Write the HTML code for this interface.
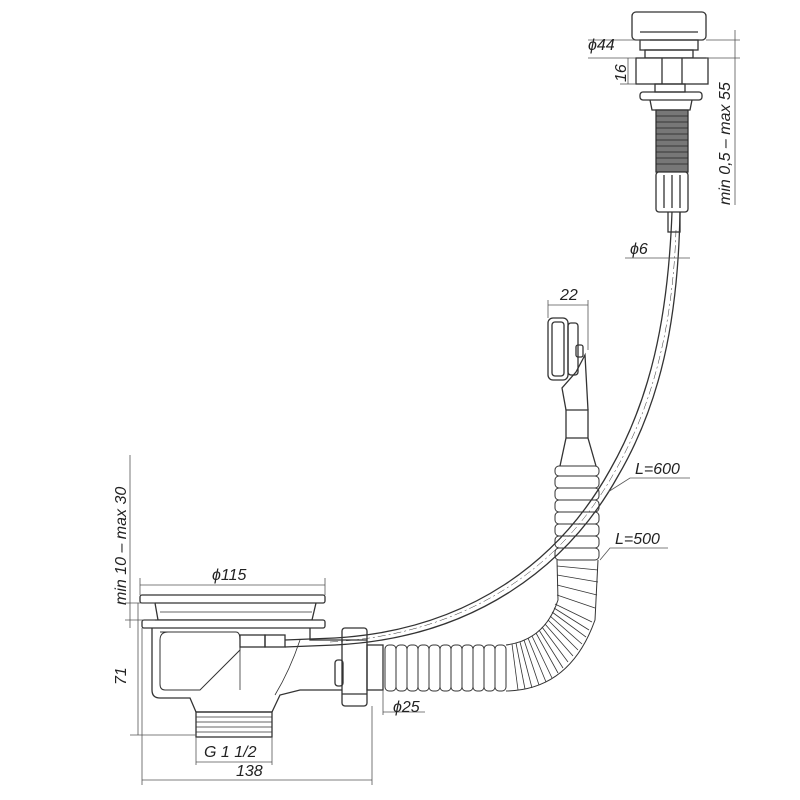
<!DOCTYPE html>
<html><head><meta charset="utf-8"><style>
html,body{margin:0;padding:0;background:#fff}
svg{display:block}
text{font-family:"Liberation Sans",sans-serif;font-style:italic;fill:#222}
</style></head><body>
<svg width="800" height="800" viewBox="0 0 800 800" xmlns="http://www.w3.org/2000/svg">
<g fill="none" stroke="#333" stroke-width="1.3">
<!-- drain flange -->
<rect x="140" y="595" width="185" height="8" rx="2" fill="#fff"/>
<path d="M155 603 L158 620 L312 620 L316 603"/>
<line x1="160" y1="612" x2="312" y2="612" stroke-width="0.7"/>
<rect x="142" y="620" width="183" height="8" rx="2" fill="#fff"/>
<!-- body -->
<path d="M152 628 L152 690 Q152 698 160 698 L190 698 L196 712 L272 712 L280 695 L300 690 L345 690 L345 640 L310 640 L310 628"/>
<path d="M160 632 L236 632 Q240 632 240 640 L240 650 L200 690 L165 690 Q160 690 160 684 L160 640 Q160 632 168 632" stroke-width="1"/>
<path d="M240 650 L240 690" stroke-width="0.8"/>
<rect x="240" y="635" width="25" height="12"/>
<rect x="265" y="635" width="20" height="12"/>
<path d="M300 640 Q290 670 275 695" stroke-width="0.8"/>
<!-- thread -->
<rect x="196" y="712" width="76" height="25"/>
<g stroke-width="0.8"><line x1="196" y1="717" x2="272" y2="717"/><line x1="196" y1="722" x2="272" y2="722"/><line x1="196" y1="727" x2="272" y2="727"/><line x1="196" y1="732" x2="272" y2="732"/></g>
<!-- nut -->
<rect x="342" y="628" width="25" height="78" rx="3" fill="#fff"/>
<line x1="342" y1="640" x2="367" y2="640"/><line x1="342" y1="694" x2="367" y2="694"/>
<rect x="335" y="660" width="8" height="26" rx="3"/>
<rect x="367" y="645" width="16" height="45"/>
<!-- corrugated hose -->
<g stroke-width="1">
<rect x="385" y="645" width="11" height="46" rx="4"/><rect x="396" y="645" width="11" height="46" rx="4"/><rect x="407" y="645" width="11" height="46" rx="4"/><rect x="418" y="645" width="11" height="46" rx="4"/><rect x="429" y="645" width="11" height="46" rx="4"/><rect x="440" y="645" width="11" height="46" rx="4"/><rect x="451" y="645" width="11" height="46" rx="4"/><rect x="462" y="645" width="11" height="46" rx="4"/><rect x="473" y="645" width="11" height="46" rx="4"/><rect x="484" y="645" width="11" height="46" rx="4"/><rect x="495" y="645" width="11" height="46" rx="4"/>
<path d="M506 645 Q545 640 558 600 L557 560 M506 691 Q570 690 595 620 L598 560"/>
<g stroke-width="0.8">
<line x1="512" y1="644" x2="518" y2="690"/><line x1="516" y1="643" x2="525" y2="689"/><line x1="520" y1="642" x2="532" y2="688"/><line x1="524" y1="640" x2="539" y2="685"/><line x1="528" y1="638" x2="546" y2="682"/><line x1="532" y1="636" x2="552" y2="678"/><line x1="536" y1="633" x2="558" y2="673"/><line x1="539" y1="630" x2="563" y2="668"/><line x1="542" y1="627" x2="568" y2="662"/><line x1="545" y1="624" x2="573" y2="656"/><line x1="548" y1="620" x2="578" y2="650"/><line x1="550" y1="616" x2="582" y2="644"/><line x1="552" y1="612" x2="586" y2="637"/><line x1="554" y1="608" x2="589" y2="630"/><line x1="555" y1="604" x2="592" y2="622"/><line x1="557" y1="595" x2="595" y2="608"/><line x1="557" y1="585" x2="597" y2="595"/><line x1="557" y1="575" x2="598" y2="582"/><line x1="557" y1="566" x2="598" y2="570"/>
</g>
<rect x="555" y="548" width="44" height="12" rx="4"/><rect x="555" y="536" width="44" height="12" rx="4"/><rect x="555" y="524" width="44" height="12" rx="4"/><rect x="555" y="512" width="44" height="12" rx="4"/><rect x="555" y="500" width="44" height="12" rx="4"/><rect x="555" y="488" width="44" height="12" rx="4"/><rect x="555" y="476" width="44" height="12" rx="4"/><rect x="555" y="466" width="44" height="10" rx="4"/>
</g>
<!-- overflow taper -->
<path d="M560 466 L566 438 L566 410 L588 410 L588 438 L596 466"/>
<line x1="566" y1="438" x2="588" y2="438"/>
<path d="M566 410 L562 388 L576 372 L585 355 L588 410"/>
<rect x="548" y="318" width="20" height="62" rx="5" fill="#fff"/>
<rect x="552" y="322" width="12" height="54" rx="3"/>
<rect x="568" y="323" width="10" height="52" rx="3"/>
<rect x="576" y="345" width="7" height="12" rx="2"/>
<!-- cable -->
<path d="M285 640 L335 638 C470 630 560 560 610 470 C650 400 668 320 672 212"/>
<path d="M285 647 L335 645 C475 638 568 566 618 476 C660 404 678 322 680 212"/>
<path d="M330 642 C472 634 564 563 614 473 C655 402 673 321 676 230" stroke-width="0.5" stroke-dasharray="8 3 2 3"/>
<!-- top button -->
<rect x="668" y="210" width="12" height="22"/>
<rect x="632" y="12" width="74" height="28" rx="4" fill="#fff"/>
<line x1="640" y1="32" x2="698" y2="32"/>
<rect x="640" y="40" width="58" height="10"/>
<rect x="645" y="50" width="48" height="8"/>
<rect x="636" y="58" width="72" height="26" fill="#fff"/>
<line x1="662" y1="58" x2="662" y2="84"/><line x1="682" y1="58" x2="682" y2="84"/>
<rect x="655" y="84" width="30" height="8"/>
<rect x="640" y="92" width="62" height="8" rx="3"/>
<path d="M650 100 L652 110 L690 110 L692 100"/>
<rect x="656" y="110" width="32" height="62" fill="#777" stroke="#333"/>
<g stroke="#222" stroke-width="0.7">
<line x1="656" y1="116" x2="688" y2="116"/><line x1="656" y1="122" x2="688" y2="122"/><line x1="656" y1="128" x2="688" y2="128"/><line x1="656" y1="134" x2="688" y2="134"/><line x1="656" y1="140" x2="688" y2="140"/><line x1="656" y1="146" x2="688" y2="146"/><line x1="656" y1="152" x2="688" y2="152"/><line x1="656" y1="158" x2="688" y2="158"/><line x1="656" y1="164" x2="688" y2="164"/>
</g>
<rect x="656" y="172" width="32" height="40" rx="3" fill="#fff"/>
<line x1="664" y1="175" x2="664" y2="208"/><line x1="672" y1="175" x2="672" y2="208"/><line x1="680" y1="175" x2="680" y2="208"/>
</g>
<!-- dimension lines -->
<g stroke="#555" stroke-width="0.8" fill="none">
<line x1="130" y1="455" x2="130" y2="628"/>
<line x1="138" y1="603" x2="138" y2="735"/>
<line x1="125" y1="603" x2="155" y2="603"/><line x1="125" y1="620" x2="155" y2="620"/><line x1="130" y1="735" x2="196" y2="735"/>
<line x1="140" y1="585" x2="325" y2="585"/><line x1="140" y1="578" x2="140" y2="595"/><line x1="325" y1="578" x2="325" y2="595"/>
<line x1="196" y1="737" x2="196" y2="765"/><line x1="272" y1="737" x2="272" y2="765"/><line x1="196" y1="762" x2="272" y2="762"/>
<line x1="142" y1="628" x2="142" y2="785"/><line x1="372" y1="706" x2="372" y2="785"/><line x1="142" y1="780" x2="372" y2="780"/>
<line x1="383" y1="690" x2="383" y2="715"/><line x1="383" y1="712" x2="425" y2="712"/>
<line x1="588" y1="40" x2="650" y2="40"/><line x1="588" y1="58" x2="636" y2="58"/>
<line x1="628" y1="58" x2="628" y2="84"/><line x1="620" y1="84" x2="636" y2="84"/>
<line x1="735" y1="30" x2="735" y2="205"/><line x1="706" y1="40" x2="740" y2="40"/><line x1="706" y1="58" x2="740" y2="58"/>
<line x1="625" y1="258" x2="690" y2="258"/>
<line x1="548" y1="305" x2="588" y2="305"/><line x1="548" y1="300" x2="548" y2="318"/><line x1="588" y1="300" x2="588" y2="350"/>
<path d="M608 492 L630 478 L690 478"/>
<path d="M600 560 L610 548 L668 548"/>
</g>
<g font-size="16">
<text x="212" y="580">ϕ115</text>
<text x="204" y="757">G 1 1/2</text>
<text x="236" y="776">138</text>
<text x="393" y="712">ϕ25</text>
<text x="588" y="50">ϕ44</text>
<text x="630" y="254">ϕ6</text>
<text x="560" y="300">22</text>
<text x="635" y="474">L=600</text>
<text x="615" y="544">L=500</text>
<text transform="translate(126,685) rotate(-90)">71</text>
<text transform="translate(626,82) rotate(-90)">16</text>
<text transform="translate(126,605) rotate(-90)">min 10 – max 30</text>
<text transform="translate(730,205) rotate(-90)">min 0,5 – max 55</text>
</g>
</svg>
</body></html>
